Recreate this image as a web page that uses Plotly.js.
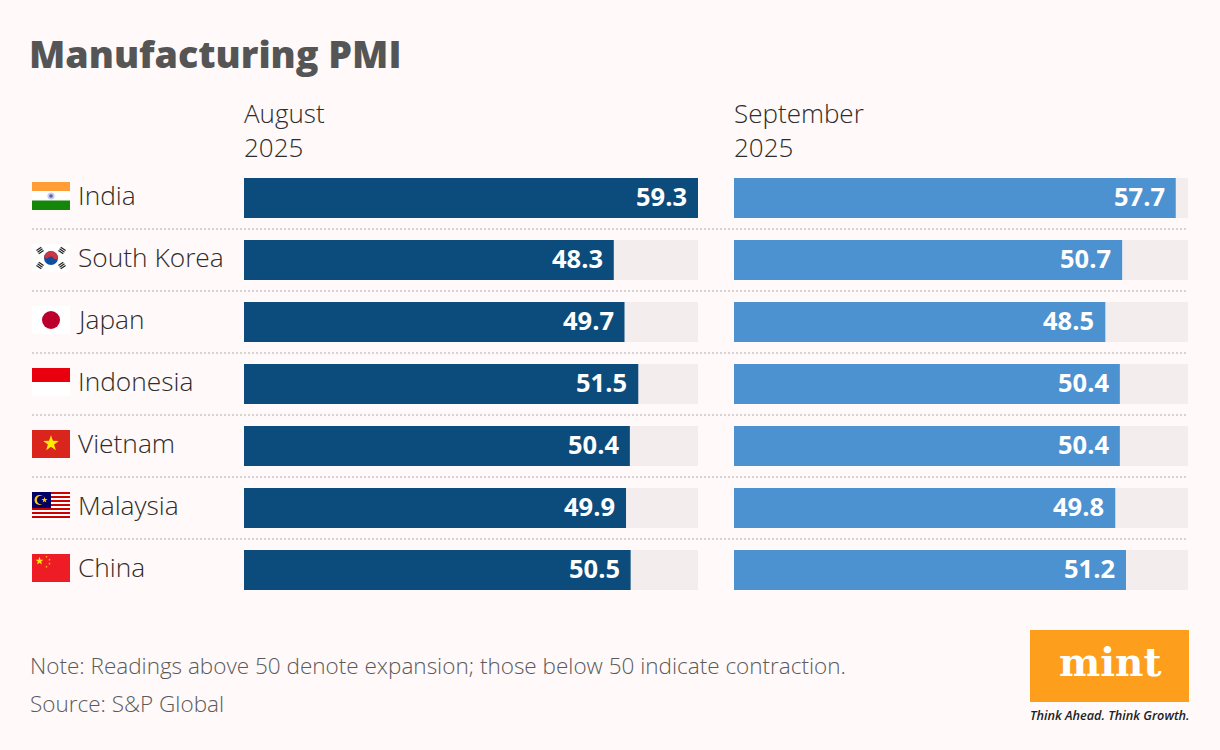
<!DOCTYPE html>
<html><head><meta charset="utf-8">
<script src="https://cdn.plot.ly/plotly-3.0.1.min.js"></script>
<style>html,body{margin:0;padding:0;background:#FFF9F9}</style></head>
<body><div id="chart" style="width:1220px;height:750px"></div>
<script>
const countries = ["India","South Korea","Japan","Indonesia","Vietnam","Malaysia","China"];
const august = [59.3,48.3,49.7,51.5,50.4,49.9,50.5];
const september = [57.7,50.7,48.5,50.4,50.4,49.8,51.2];
const axisMax = 59.3;
const track = [59.3,59.3,59.3,59.3,59.3,59.3,59.3];
const columnHeads = ["August<br>2025","September<br>2025"];
const titleText = "Manufacturing PMI";
const noteText = "Note: Readings above 50 denote expansion; those below 50 indicate contraction.";
const sourceText = "Source: S&P Global";

const W=1220,H=750;
const svg=(b)=>"data:image/svg+xml;base64,"+btoa('<svg xmlns="http://www.w3.org/2000/svg" width="152" height="112" viewBox="0 0 38 28" preserveAspectRatio="none">'+b+'</svg>');
const star=(cx,cy,r,f)=>{let p=[];for(let i=0;i<10;i++){const a=-Math.PI/2+i*Math.PI/5,q=i%2?r*0.4:r;p.push((cx+q*Math.cos(a)).toFixed(2)+','+(cy+q*Math.sin(a)).toFixed(2));}return `<polygon points="${p.join(' ')}" fill="${f}"/>`;};
const tri=(x,y,rot)=>`<g transform="translate(${x} ${y}) rotate(${rot})" fill="#222"><rect x="-3" y="-2.6" width="6" height="1.2"/><rect x="-3" y="-0.6" width="6" height="1.2"/><rect x="-3" y="1.4" width="6" height="1.2"/></g>`;
let malay='<rect width="38" height="28" fill="#fff"/>';
for(let i=0;i<7;i++) malay+=`<rect y="${i*4}" width="38" height="2" fill="#CC0001"/>`;
malay+='<rect width="19" height="16" fill="#010066"/><circle cx="7.5" cy="8" r="5" fill="#FFCC00"/><circle cx="9" cy="8" r="4.2" fill="#010066"/>'+star(12.5,8,3.2,"#FFCC00");
const flags={
 "India":'<rect width="38" height="28" fill="#fff"/><rect width="38" height="9" fill="#FF9E36"/><rect y="18.5" width="38" height="9.5" fill="#14860A"/><circle cx="19" cy="14" r="3.6" fill="#C9CBEA"/><circle cx="19" cy="14" r="1.8" fill="#5A5FB5"/>',
 "South Korea":'<rect width="38" height="28" fill="#fff"/><circle cx="19" cy="14" r="7" fill="#0F4FA0"/><path d="M12.1 12.6a7 7 0 0 1 13.8 1.6c-1.5 2-3.6 1-4.6-.4-1.4-1.8-3.6-1.8-5-.2-1.5 1.6-3.6 1-4.2-1z" fill="#D0363F"/>'+tri(8,6.5,-35)+tri(30,6.5,35)+tri(8,21.5,35)+tri(30,21.5,-35),
 "Japan":'<rect width="38" height="28" fill="#fff"/><circle cx="19" cy="14" r="9" fill="#BC002D"/>',
 "Indonesia":'<rect width="38" height="28" fill="#fff"/><rect width="38" height="14" fill="#E8000F"/>',
 "Vietnam":'<rect width="38" height="28" fill="#DA251D"/>'+star(19,13.5,8.2,"#FFEC00"),
 "Malaysia":malay,
 "China":'<rect width="38" height="28" fill="#EE1C25"/>'+star(7.5,7,4.2,"#FFEC00")+star(14.5,2.8,1.3,"#FFEC00")+star(17.5,5.8,1.3,"#FFEC00")+star(17.5,9.8,1.3,"#FFEC00")+star(14.5,12.8,1.3,"#FFEC00")
};
const sans="'Open Sans', sans-serif", ink="#2E2C2C", grey="#5A5A5A";
const yIdx=countries.map((c,i)=>i);
const mk=(x,col,xa)=>({type:'bar',orientation:'h',x:x,y:yIdx,xaxis:xa,yaxis:'y',marker:{color:col,line:{width:0}},hoverinfo:'skip',showlegend:false});
const data=[mk(track,'#F3EEED','x'),mk(august,'#0B4C7C','x'),mk(track,'#F3EEED','x2'),mk(september,'#4D92D0','x2')];

const annotations=[];
const A=o=>annotations.push(Object.assign({showarrow:false,xanchor:'left',yanchor:'middle',align:'left',borderpad:0},o));
countries.forEach((c,i)=>{
 A({text:c,xref:'paper',x:78/W,xshift:c==="Japan"?-3:-1,yref:'y',y:i,yshift:3,font:{family:sans,size:26.3,color:ink,weight:300}});
 A({text:august[i].toFixed(1),xref:'x',x:august[i],xanchor:'right',xshift:-10,yref:'y',y:i,yshift:2,font:{family:sans,size:25.5,color:'#fff',weight:700}});
 A({text:september[i].toFixed(1),xref:'x2',x:september[i],xanchor:'right',xshift:-10,yref:'y',y:i,yshift:2,font:{family:sans,size:25.5,color:'#fff',weight:700}});
});
columnHeads.forEach((t,i)=>A({text:t,xref:'paper',x:[243,733][i]/W,yref:'paper',y:1-130/H,font:{family:sans,size:26,color:ink,weight:300}}));
A({text:noteText,xref:'paper',x:29/W,yref:'paper',y:1-665/H,font:{family:sans,size:22.5,color:grey,weight:300}});
A({text:sourceText,xref:'paper',x:29/W,yref:'paper',y:1-703/H,font:{family:sans,size:22.5,color:grey,weight:300}});
A({text:"mint",xref:'paper',x:1109.5/W,xanchor:'center',yref:'paper',y:1-662/H,font:{family:"'DejaVu Serif', serif",size:39,color:'#fff',weight:700}});
A({text:"<i>Think Ahead. Think Growth.</i>",xref:'paper',x:1110/W,xanchor:'center',yref:'paper',y:1-715/H,font:{family:sans,size:12.7,color:'#222',weight:600}});

const shapes=[];
for(let i=0;i<countries.length-1;i++){
 shapes.push({type:'line',xref:'paper',x0:32/W,x1:1188/W,yref:'y',y0:i+0.5,y1:i+0.5,line:{color:'#D6D3D2',width:2,dash:'2px,2px'}});
}
shapes.push({type:'rect',xref:'paper',yref:'paper',x0:1030/W,x1:1189/W,y0:1-702/H,y1:1-630/H,fillcolor:'#FD9F1C',line:{width:0},layer:'below'});

const images=countries.map((c,i)=>({source:svg(flags[c]),xref:'paper',yref:'paper',x:32/W,y:1-(182+62*i)/H,sizex:38/W,sizey:28/H,xanchor:'left',yanchor:'top',sizing:'stretch',layer:'above'}));

const layout={
 width:W,height:H,margin:{l:0,r:0,t:0,b:0},paper_bgcolor:'#FFF9F9',plot_bgcolor:'rgba(0,0,0,0)',
 title:{text:titleText,x:29/W,xanchor:'left',xref:'paper',y:1-55/H,yanchor:'middle',font:{family:sans,size:37.6,color:'#555555',weight:800}},
 barmode:'overlay',bargap:22/62,showlegend:false,
 xaxis:{domain:[244/W,698/W],range:[0,axisMax],visible:false,fixedrange:true},
 xaxis2:{domain:[734/W,1188/W],range:[0,axisMax],visible:false,fixedrange:true,anchor:'y'},
 yaxis:{domain:[1-601/H,1-167/H],range:[6.5,-0.5],visible:false,fixedrange:true},
 annotations,shapes,images
};
Plotly.newPlot('chart',data,layout,{displayModeBar:false,staticPlot:true});
</script></body></html>
